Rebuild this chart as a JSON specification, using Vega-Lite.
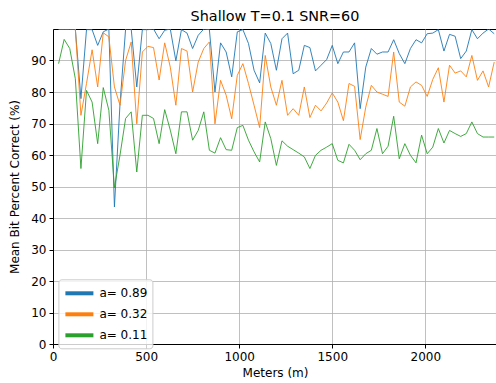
{
  "$schema": "https://vega.github.io/schema/vega-lite/v6.json",
  "autosize": "none",
  "padding": {"left": 53, "top": 29, "right": 0, "bottom": 39},
  "width": 444,
  "height": 315,
  "background": "white",
  "title": {"text": "Shallow T=0.1 SNR=60", "font": "DejaVu Sans", "fontSize": 14.4, "fontWeight": "normal", "color": "black", "anchor": "middle", "frame": "group", "baseline": "alphabetic", "offset": 8, "dy": 14.5},
  "config": {
    "view": {"stroke": "black", "strokeWidth": 1},
    "axis": {"labelFont": "DejaVu Sans", "labelFontSize": 12, "labelColor": "black", "titleFont": "DejaVu Sans", "titleFontSize": 12, "titleFontWeight": "normal", "titleColor": "black", "tickColor": "black", "tickSize": 4, "labelPadding": 3, "domainColor": "black", "gridColor": "#b0b0b0", "gridWidth": 0.8, "labelFlush": false, "labelOverlap": false}
  },
  "datasets": {
    "rows": [
      {"m":30,"s":"a= 0.89","v":100},{"m":60,"s":"a= 0.89","v":100},{"m":90,"s":"a= 0.89","v":100},{"m":120,"s":"a= 0.89","v":100},{"m":150,"s":"a= 0.89","v":77.9},{"m":180,"s":"a= 0.89","v":99.8},{"m":210,"s":"a= 0.89","v":99.8},{"m":240,"s":"a= 0.89","v":94.8},{"m":270,"s":"a= 0.89","v":99.1},{"m":300,"s":"a= 0.89","v":100},
      {"m":330,"s":"a= 0.89","v":43.5},{"m":360,"s":"a= 0.89","v":76.3},{"m":390,"s":"a= 0.89","v":100},{"m":420,"s":"a= 0.89","v":100},{"m":450,"s":"a= 0.89","v":81.6},{"m":480,"s":"a= 0.89","v":99.8},{"m":510,"s":"a= 0.89","v":99.8},{"m":540,"s":"a= 0.89","v":100},{"m":570,"s":"a= 0.89","v":96.9},{"m":600,"s":"a= 0.89","v":99.6},
      {"m":630,"s":"a= 0.89","v":100},{"m":660,"s":"a= 0.89","v":89.9},{"m":690,"s":"a= 0.89","v":99.8},{"m":720,"s":"a= 0.89","v":98.7},{"m":750,"s":"a= 0.89","v":93.8},{"m":780,"s":"a= 0.89","v":98.0},{"m":810,"s":"a= 0.89","v":100},{"m":840,"s":"a= 0.89","v":99.8},{"m":870,"s":"a= 0.89","v":80.0},{"m":900,"s":"a= 0.89","v":95.6},
      {"m":930,"s":"a= 0.89","v":92.7},{"m":960,"s":"a= 0.89","v":84.8},{"m":990,"s":"a= 0.89","v":99.1},{"m":1020,"s":"a= 0.89","v":99.8},{"m":1050,"s":"a= 0.89","v":95.4},{"m":1080,"s":"a= 0.89","v":86.9},{"m":1110,"s":"a= 0.89","v":82.9},{"m":1140,"s":"a= 0.89","v":98.7},{"m":1170,"s":"a= 0.89","v":95.4},{"m":1200,"s":"a= 0.89","v":86.9},
      {"m":1230,"s":"a= 0.89","v":96.9},{"m":1260,"s":"a= 0.89","v":98.7},{"m":1290,"s":"a= 0.89","v":85.8},{"m":1320,"s":"a= 0.89","v":86.9},{"m":1350,"s":"a= 0.89","v":94.8},{"m":1380,"s":"a= 0.89","v":94.1},{"m":1410,"s":"a= 0.89","v":86.7},{"m":1440,"s":"a= 0.89","v":88.5},{"m":1470,"s":"a= 0.89","v":90.3},{"m":1500,"s":"a= 0.89","v":94.8},
      {"m":1530,"s":"a= 0.89","v":89.0},{"m":1560,"s":"a= 0.89","v":92.7},{"m":1590,"s":"a= 0.89","v":92.7},{"m":1620,"s":"a= 0.89","v":95.6},{"m":1650,"s":"a= 0.89","v":74.7},{"m":1680,"s":"a= 0.89","v":87.9},{"m":1710,"s":"a= 0.89","v":93.8},{"m":1740,"s":"a= 0.89","v":92.0},{"m":1770,"s":"a= 0.89","v":92.7},{"m":1800,"s":"a= 0.89","v":92.7},
      {"m":1830,"s":"a= 0.89","v":96.6},{"m":1860,"s":"a= 0.89","v":92.2},{"m":1890,"s":"a= 0.89","v":89.0},{"m":1920,"s":"a= 0.89","v":93.8},{"m":1950,"s":"a= 0.89","v":96.6},{"m":1980,"s":"a= 0.89","v":95.6},{"m":2010,"s":"a= 0.89","v":98.5},{"m":2040,"s":"a= 0.89","v":98.7},{"m":2070,"s":"a= 0.89","v":99.8},{"m":2100,"s":"a= 0.89","v":93.0},
      {"m":2130,"s":"a= 0.89","v":98.3},{"m":2160,"s":"a= 0.89","v":97.7},{"m":2190,"s":"a= 0.89","v":90.6},{"m":2220,"s":"a= 0.89","v":93.0},{"m":2250,"s":"a= 0.89","v":99.8},{"m":2280,"s":"a= 0.89","v":96.9},{"m":2310,"s":"a= 0.89","v":98.7},{"m":2340,"s":"a= 0.89","v":100},{"m":2370,"s":"a= 0.89","v":98.5},

      {"m":30,"s":"a= 0.32","v":100},{"m":60,"s":"a= 0.32","v":100},{"m":90,"s":"a= 0.32","v":100},{"m":120,"s":"a= 0.32","v":100},{"m":150,"s":"a= 0.32","v":72.6},{"m":180,"s":"a= 0.32","v":82.7},{"m":210,"s":"a= 0.32","v":93.4},{"m":240,"s":"a= 0.32","v":81.6},{"m":270,"s":"a= 0.32","v":98.8},{"m":300,"s":"a= 0.32","v":97.5},
      {"m":330,"s":"a= 0.32","v":81.6},{"m":360,"s":"a= 0.32","v":75.8},{"m":390,"s":"a= 0.32","v":90.0},{"m":420,"s":"a= 0.32","v":95.9},{"m":450,"s":"a= 0.32","v":69.9},{"m":480,"s":"a= 0.32","v":92.7},{"m":510,"s":"a= 0.32","v":94.5},{"m":540,"s":"a= 0.32","v":94.1},{"m":570,"s":"a= 0.32","v":83.8},{"m":600,"s":"a= 0.32","v":95.6},
      {"m":630,"s":"a= 0.32","v":87.9},{"m":660,"s":"a= 0.32","v":75.8},{"m":690,"s":"a= 0.32","v":93.8},{"m":720,"s":"a= 0.32","v":93.0},{"m":750,"s":"a= 0.32","v":80.0},{"m":780,"s":"a= 0.32","v":89.5},{"m":810,"s":"a= 0.32","v":93.8},{"m":840,"s":"a= 0.32","v":95.9},{"m":870,"s":"a= 0.32","v":69.9},{"m":900,"s":"a= 0.32","v":83.7},
      {"m":930,"s":"a= 0.32","v":79.0},{"m":960,"s":"a= 0.32","v":71.5},{"m":990,"s":"a= 0.32","v":85.3},{"m":1020,"s":"a= 0.32","v":89.0},{"m":1050,"s":"a= 0.32","v":82.7},{"m":1080,"s":"a= 0.32","v":75.8},{"m":1110,"s":"a= 0.32","v":68.7},{"m":1140,"s":"a= 0.32","v":91.6},{"m":1170,"s":"a= 0.32","v":81.6},{"m":1200,"s":"a= 0.32","v":75.8},
      {"m":1230,"s":"a= 0.32","v":83.7},{"m":1260,"s":"a= 0.32","v":72.6},{"m":1290,"s":"a= 0.32","v":74.7},{"m":1320,"s":"a= 0.32","v":72.6},{"m":1350,"s":"a= 0.32","v":81.6},{"m":1380,"s":"a= 0.32","v":71.9},{"m":1410,"s":"a= 0.32","v":75.8},{"m":1440,"s":"a= 0.32","v":74.0},{"m":1470,"s":"a= 0.32","v":76.5},{"m":1500,"s":"a= 0.32","v":79.7},
      {"m":1530,"s":"a= 0.32","v":76.8},{"m":1560,"s":"a= 0.32","v":70.9},{"m":1590,"s":"a= 0.32","v":82.7},{"m":1620,"s":"a= 0.32","v":81.8},{"m":1650,"s":"a= 0.32","v":64.9},{"m":1680,"s":"a= 0.32","v":75.2},{"m":1710,"s":"a= 0.32","v":82.1},{"m":1740,"s":"a= 0.32","v":80.0},{"m":1770,"s":"a= 0.32","v":79.3},{"m":1800,"s":"a= 0.32","v":78.6},
      {"m":1830,"s":"a= 0.32","v":92.7},{"m":1860,"s":"a= 0.32","v":76.8},{"m":1890,"s":"a= 0.32","v":75.5},{"m":1920,"s":"a= 0.32","v":81.6},{"m":1950,"s":"a= 0.32","v":83.2},{"m":1980,"s":"a= 0.32","v":82.1},{"m":2010,"s":"a= 0.32","v":78.6},{"m":2040,"s":"a= 0.32","v":84.0},{"m":2070,"s":"a= 0.32","v":87.7},{"m":2100,"s":"a= 0.32","v":76.8},
      {"m":2130,"s":"a= 0.32","v":88.5},{"m":2160,"s":"a= 0.32","v":86.0},{"m":2190,"s":"a= 0.32","v":86.7},{"m":2220,"s":"a= 0.32","v":84.8},{"m":2250,"s":"a= 0.32","v":91.6},{"m":2280,"s":"a= 0.32","v":83.7},{"m":2310,"s":"a= 0.32","v":86.7},{"m":2340,"s":"a= 0.32","v":81.6},{"m":2370,"s":"a= 0.32","v":89.5},

      {"m":30,"s":"a= 0.11","v":89.0},{"m":60,"s":"a= 0.11","v":96.7},{"m":90,"s":"a= 0.11","v":93.8},{"m":120,"s":"a= 0.11","v":84.2},{"m":150,"s":"a= 0.11","v":55.7},{"m":180,"s":"a= 0.11","v":80.5},{"m":210,"s":"a= 0.11","v":76.8},{"m":240,"s":"a= 0.11","v":63.6},{"m":270,"s":"a= 0.11","v":81.4},{"m":300,"s":"a= 0.11","v":74.2},
      {"m":330,"s":"a= 0.11","v":49.6},{"m":360,"s":"a= 0.11","v":60.0},{"m":390,"s":"a= 0.11","v":71.6},{"m":420,"s":"a= 0.11","v":73.7},{"m":450,"s":"a= 0.11","v":54.6},{"m":480,"s":"a= 0.11","v":72.6},{"m":510,"s":"a= 0.11","v":72.6},{"m":540,"s":"a= 0.11","v":71.6},{"m":570,"s":"a= 0.11","v":63.6},{"m":600,"s":"a= 0.11","v":74.4},
      {"m":630,"s":"a= 0.11","v":67.9},{"m":660,"s":"a= 0.11","v":60.4},{"m":690,"s":"a= 0.11","v":73.7},{"m":720,"s":"a= 0.11","v":73.7},{"m":750,"s":"a= 0.11","v":64.7},{"m":780,"s":"a= 0.11","v":67.8},{"m":810,"s":"a= 0.11","v":73.7},{"m":840,"s":"a= 0.11","v":61.5},{"m":870,"s":"a= 0.11","v":60.6},{"m":900,"s":"a= 0.11","v":65.5},
      {"m":930,"s":"a= 0.11","v":61.7},{"m":960,"s":"a= 0.11","v":61.5},{"m":990,"s":"a= 0.11","v":68.7},{"m":1020,"s":"a= 0.11","v":69.4},{"m":1050,"s":"a= 0.11","v":64.7},{"m":1080,"s":"a= 0.11","v":61.0},{"m":1110,"s":"a= 0.11","v":57.8},{"m":1140,"s":"a= 0.11","v":70.5},{"m":1170,"s":"a= 0.11","v":65.2},{"m":1200,"s":"a= 0.11","v":56.7},
      {"m":1230,"s":"a= 0.11","v":64.5},{"m":1260,"s":"a= 0.11","v":62.8},{"m":1290,"s":"a= 0.11","v":61.7},{"m":1320,"s":"a= 0.11","v":60.6},{"m":1350,"s":"a= 0.11","v":59.4},{"m":1380,"s":"a= 0.11","v":55.7},{"m":1410,"s":"a= 0.11","v":59.9},{"m":1440,"s":"a= 0.11","v":61.5},{"m":1470,"s":"a= 0.11","v":62.5},{"m":1500,"s":"a= 0.11","v":63.6},
      {"m":1530,"s":"a= 0.11","v":58.3},{"m":1560,"s":"a= 0.11","v":57.5},{"m":1590,"s":"a= 0.11","v":63.4},{"m":1620,"s":"a= 0.11","v":61.5},{"m":1650,"s":"a= 0.11","v":58.5},{"m":1680,"s":"a= 0.11","v":60.4},{"m":1710,"s":"a= 0.11","v":61.5},{"m":1740,"s":"a= 0.11","v":68.4},{"m":1770,"s":"a= 0.11","v":60.4},{"m":1800,"s":"a= 0.11","v":62.8},
      {"m":1830,"s":"a= 0.11","v":72.3},{"m":1860,"s":"a= 0.11","v":58.8},{"m":1890,"s":"a= 0.11","v":63.6},{"m":1920,"s":"a= 0.11","v":59.9},{"m":1950,"s":"a= 0.11","v":57.5},{"m":1980,"s":"a= 0.11","v":66.3},{"m":2010,"s":"a= 0.11","v":60.4},{"m":2040,"s":"a= 0.11","v":62.5},{"m":2070,"s":"a= 0.11","v":68.4},{"m":2100,"s":"a= 0.11","v":63.8},
      {"m":2130,"s":"a= 0.11","v":67.8},{"m":2160,"s":"a= 0.11","v":66.8},{"m":2190,"s":"a= 0.11","v":65.9},{"m":2220,"s":"a= 0.11","v":66.8},{"m":2250,"s":"a= 0.11","v":70.5},{"m":2280,"s":"a= 0.11","v":66.8},{"m":2310,"s":"a= 0.11","v":65.7},{"m":2340,"s":"a= 0.11","v":65.7},{"m":2370,"s":"a= 0.11","v":65.7}
    ]
  },
  "data": {"name": "rows"},
  "mark": {"type": "line", "strokeWidth": 0.9, "clip": true},
  "encoding": {
    "x": {"field": "m", "type": "quantitative", "scale": {"domain": [0, 2385], "nice": false, "zero": false},
      "axis": {"values": [0, 500, 1000, 1500, 2000], "format": "d", "title": "Meters (m)", "titlePadding": 5}},
    "y": {"field": "v", "type": "quantitative", "scale": {"domain": [0, 100], "nice": false},
      "axis": {"values": [0, 10, 20, 30, 40, 50, 60, 70, 80, 90], "format": "d", "title": "Mean Bit Percent Correct (%)", "titlePadding": 9}},
    "color": {"field": "s", "type": "nominal",
      "scale": {"domain": ["a= 0.89", "a= 0.32", "a= 0.11"], "range": ["#1f77b4", "#ff7f0e", "#2ca02c"]},
      "legend": {"title": null, "orient": "none", "legendX": 5.4, "legendY": 250.3, "padding": 5, "fillColor": "rgba(255,255,255,0.8)", "strokeColor": "#cccccc", "cornerRadius": 3,
        "symbolType": "M-1,0H3", "symbolSize": 196, "symbolStrokeWidth": 4, "labelOffset": 18, "rowPadding": 4,
        "labelFont": "DejaVu Sans", "labelFontSize": 12, "labelColor": "black"}},
    "order": {"field": "m", "type": "quantitative"}
  }
}
